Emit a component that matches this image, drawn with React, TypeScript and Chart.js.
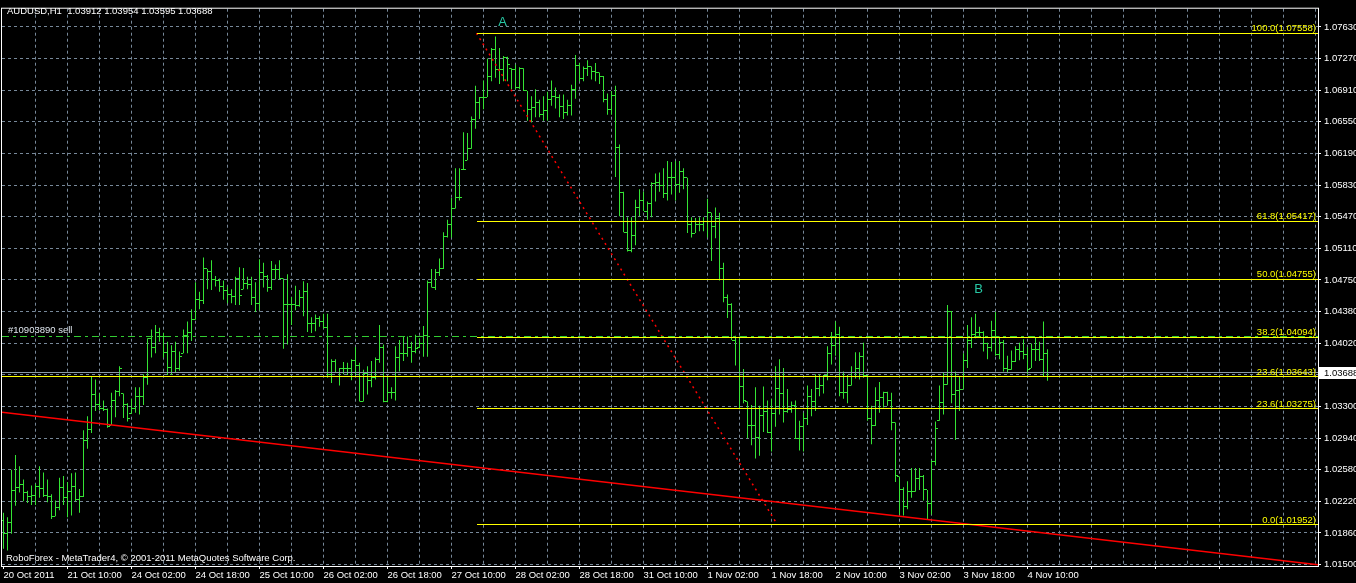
import { useEffect, useRef } from 'react';
import { Chart, registerables } from 'chart.js';

Chart.register(...registerables);

// ---- chart data (AUDUSD H1) ----
const symbolInfo = 'AUDUSD,H1  1.03912 1.03954 1.03595 1.03688';
const copyrightText = 'RoboForex - MetaTrader4, \u00a9 2001-2011 MetaQuotes Software Corp.';

const firstOpen = 1.02;

const highs = [
  1.0209, 1.0204, 1.0258, 1.0275, 1.0262, 1.0247, 1.0234, 1.024, 1.0242, 1.0262,
  1.0255, 1.0247, 1.023, 1.0223, 1.0249, 1.0251, 1.0244, 1.0254, 1.0255, 1.0236,
  1.0303, 1.0319, 1.0365, 1.0361, 1.0345, 1.0337, 1.0328, 1.0346, 1.0349, 1.0376,
  1.0345, 1.0334, 1.0339, 1.0352, 1.0352, 1.0367, 1.0408, 1.0418, 1.0423, 1.042,
  1.0414, 1.0404, 1.04, 1.0404, 1.0393, 1.0418, 1.0427, 1.0441, 1.0472, 1.0461,
  1.05, 1.0487, 1.0497, 1.0479, 1.0476, 1.0474, 1.0467, 1.0464, 1.0478, 1.0489,
  1.0488, 1.0478, 1.0478, 1.0472, 1.0498, 1.0494, 1.048, 1.0496, 1.0492, 1.0497,
  1.0476, 1.0481, 1.0455, 1.0468, 1.0463, 1.0473, 1.0471, 1.0432, 1.0435, 1.0433,
  1.0436, 1.0436, 1.0384, 1.0384, 1.0374, 1.0381, 1.038, 1.0384, 1.0398, 1.038,
  1.0372, 1.0376, 1.0382, 1.0386, 1.0423, 1.0401, 1.0365, 1.0352, 1.0399, 1.0406,
  1.041, 1.041, 1.0404, 1.0412, 1.0408, 1.0422, 1.0474, 1.0487, 1.0487, 1.0499,
  1.0529, 1.0543, 1.0568, 1.0602, 1.0602, 1.0643, 1.0642, 1.0661, 1.0696, 1.0683,
  1.0702, 1.0727, 1.0739, 1.0752, 1.0739, 1.073, 1.0729, 1.0716, 1.072, 1.0717,
  1.0716, 1.069, 1.0684, 1.0692, 1.068, 1.0684, 1.0689, 1.0702, 1.0694, 1.0686,
  1.0686, 1.068, 1.0697, 1.0731, 1.0722, 1.0718, 1.0725, 1.0718, 1.0722, 1.0711,
  1.0707, 1.0687, 1.069, 1.0696, 1.0629, 1.0575, 1.0546, 1.0546, 1.0566, 1.0578,
  1.0575, 1.0564, 1.0586, 1.0596, 1.0597, 1.0602, 1.061, 1.0609, 1.061, 1.061,
  1.0602, 1.0591, 1.0546, 1.0545, 1.0546, 1.0546, 1.0567, 1.0551, 1.0557, 1.0551,
  1.0494, 1.0458, 1.0448, 1.0411, 1.041, 1.0373, 1.0336, 1.0332, 1.0352, 1.0331,
  1.0353, 1.0337, 1.0339, 1.0376, 1.0384, 1.0374, 1.035, 1.0336, 1.0337, 1.0314,
  1.0323, 1.0354, 1.035, 1.0367, 1.0367, 1.0366, 1.0399, 1.0415, 1.0427, 1.0421,
  1.037, 1.0366, 1.0376, 1.0392, 1.0392, 1.0403, 1.0366, 1.0331, 1.0352, 1.0358,
  1.0347, 1.0347, 1.0346, 1.0312, 1.025, 1.0238, 1.0245, 1.026, 1.026, 1.026,
  1.0252, 1.0235, 1.0269, 1.0313, 1.0354, 1.0369, 1.0446, 1.0439, 1.037, 1.0365,
  1.0391, 1.0423, 1.0432, 1.0436, 1.0421, 1.0416, 1.0403, 1.0428, 1.0438, 1.041,
  1.0406, 1.0388, 1.0394, 1.0399, 1.0403, 1.0407, 1.0398, 1.0402, 1.0409, 1.0404,
  1.0427, 1.03954,
];

const lows = [
  1.0168, 1.0166, 1.0185, 1.0217, 1.0232, 1.0222, 1.022, 1.0218, 1.0218, 1.0226,
  1.0227, 1.0221, 1.0202, 1.0205, 1.0212, 1.0218, 1.0204, 1.0206, 1.0222, 1.0209,
  1.0227, 1.0282, 1.03, 1.0325, 1.0326, 1.0325, 1.0306, 1.0309, 1.0318, 1.0342,
  1.0317, 1.0313, 1.0322, 1.0323, 1.0321, 1.0332, 1.0355, 1.0386, 1.0391, 1.0404,
  1.0386, 1.0366, 1.0366, 1.0369, 1.0371, 1.0391, 1.0391, 1.0405, 1.0429, 1.0441,
  1.0447, 1.0464, 1.0463, 1.0467, 1.0461, 1.0452, 1.0448, 1.0448, 1.0446, 1.0446,
  1.0464, 1.0464, 1.0446, 1.0438, 1.044, 1.0466, 1.0461, 1.0463, 1.0475, 1.0475,
  1.0396, 1.0401, 1.0423, 1.044, 1.0444, 1.0433, 1.0415, 1.0414, 1.0416, 1.0421,
  1.0419, 1.0363, 1.0357, 1.0369, 1.0354, 1.0367, 1.0366, 1.036, 1.0366, 1.0336,
  1.0336, 1.0344, 1.0352, 1.0361, 1.038, 1.0335, 1.0335, 1.0339, 1.0337, 1.037,
  1.0382, 1.0387, 1.038, 1.0391, 1.0397, 1.0387, 1.0387, 1.0466, 1.0463, 1.0479,
  1.0487, 1.0523, 1.0523, 1.0556, 1.0565, 1.06, 1.0611, 1.0624, 1.0647, 1.0658,
  1.0669, 1.0683, 1.0701, 1.0705, 1.0698, 1.0701, 1.0701, 1.0692, 1.0692, 1.0692,
  1.069, 1.0656, 1.0654, 1.066, 1.066, 1.0656, 1.0656, 1.0673, 1.067, 1.066,
  1.0658, 1.0662, 1.0662, 1.0681, 1.0701, 1.0701, 1.0707, 1.0703, 1.0701, 1.0698,
  1.0677, 1.0663, 1.0663, 1.0592, 1.0547, 1.0529, 1.0507, 1.0506, 1.0514, 1.0547,
  1.0553, 1.0543, 1.0546, 1.0564, 1.0575, 1.0568, 1.0565, 1.0572, 1.0565, 1.0574,
  1.0578, 1.0528, 1.0523, 1.0528, 1.053, 1.053, 1.0523, 1.0496, 1.0522, 1.0474,
  1.0449, 1.0431, 1.0406, 1.0377, 1.0327, 1.0334, 1.0294, 1.0286, 1.0271, 1.0274,
  1.0301, 1.03, 1.0279, 1.0307, 1.0321, 1.0312, 1.0323, 1.0323, 1.0293, 1.028,
  1.0279, 1.0309, 1.0319, 1.0325, 1.0342, 1.0345, 1.036, 1.0378, 1.0388, 1.0342,
  1.0339, 1.0334, 1.0354, 1.0362, 1.0361, 1.0363, 1.0314, 1.0287, 1.0308, 1.0323,
  1.0329, 1.0331, 1.0303, 1.0244, 1.0207, 1.0206, 1.0213, 1.0226, 1.0233, 1.0235,
  1.0223, 1.0202, 1.0207, 1.0263, 1.0314, 1.0321, 1.0355, 1.0334, 1.0292, 1.0325,
  1.035, 1.0374, 1.0397, 1.0408, 1.041, 1.0393, 1.0384, 1.0393, 1.0388, 1.0384,
  1.037, 1.0368, 1.0372, 1.0381, 1.0383, 1.0384, 1.0367, 1.0374, 1.0382, 1.0382,
  1.0364, 1.03595,
];

const closes = [
  1.0185, 1.0198, 1.0234, 1.0238, 1.0241, 1.0232, 1.0228, 1.0229, 1.0239, 1.0237,
  1.0229, 1.0227, 1.0205, 1.0215, 1.0238, 1.0226, 1.0233, 1.0239, 1.0224, 1.0227,
  1.0291, 1.0304, 1.0344, 1.0332, 1.0328, 1.0327, 1.0307, 1.0337, 1.0347, 1.0374,
  1.0332, 1.0317, 1.0328, 1.0342, 1.0342, 1.0363, 1.0408, 1.0397, 1.0414, 1.041,
  1.0392, 1.0375, 1.0393, 1.0373, 1.0387, 1.0411, 1.0414, 1.0429, 1.0452, 1.0451,
  1.0487, 1.0484, 1.0475, 1.0474, 1.0467, 1.0463, 1.0458, 1.0456, 1.0476, 1.0457,
  1.0471, 1.0469, 1.0454, 1.0448, 1.0483, 1.0478, 1.0466, 1.0486, 1.0486, 1.0476,
  1.0446, 1.0446, 1.0446, 1.0445, 1.0455, 1.0461, 1.0425, 1.0425, 1.043, 1.0427,
  1.042, 1.0367, 1.0381, 1.0369, 1.0373, 1.0373, 1.0373, 1.0383, 1.0377, 1.0336,
  1.0368, 1.036, 1.0363, 1.0384, 1.0397, 1.0336, 1.0346, 1.0346, 1.0386, 1.0391,
  1.0391, 1.0397, 1.0393, 1.0396, 1.0402, 1.0411, 1.0472, 1.0466, 1.0483, 1.0488,
  1.0524, 1.0538, 1.0556, 1.0568, 1.0568, 1.06, 1.0624, 1.0658, 1.0677, 1.0682,
  1.0683, 1.0706, 1.0737, 1.0715, 1.0715, 1.0728, 1.072, 1.0714, 1.0694, 1.0716,
  1.069, 1.0669, 1.0671, 1.0677, 1.0663, 1.0668, 1.068, 1.0684, 1.0682, 1.0672,
  1.0665, 1.0673, 1.0692, 1.0719, 1.0704, 1.0716, 1.0718, 1.0712, 1.0711, 1.0707,
  1.068, 1.0669, 1.0685, 1.0625, 1.0574, 1.0529, 1.0508, 1.0525, 1.0557, 1.0565,
  1.0553, 1.0562, 1.0584, 1.0586, 1.0582, 1.0573, 1.0591, 1.0591, 1.0583, 1.0598,
  1.0591, 1.0538, 1.0528, 1.0538, 1.0538, 1.0541, 1.0551, 1.0536, 1.0545, 1.0488,
  1.0454, 1.0446, 1.0406, 1.0409, 1.0353, 1.0337, 1.0308, 1.0308, 1.0295, 1.032,
  1.0324, 1.0301, 1.0322, 1.0351, 1.0345, 1.0325, 1.0327, 1.0331, 1.0294, 1.0307,
  1.0316, 1.0342, 1.0336, 1.0351, 1.0354, 1.0365, 1.0391, 1.04, 1.0412, 1.0346,
  1.0346, 1.0354, 1.0369, 1.0374, 1.0387, 1.0365, 1.0316, 1.0308, 1.0337, 1.034,
  1.0346, 1.0337, 1.0312, 1.0252, 1.0235, 1.0216, 1.0233, 1.0233, 1.0248, 1.025,
  1.0235, 1.0219, 1.0268, 1.0305, 1.0335, 1.0355, 1.0438, 1.0344, 1.0348, 1.0349,
  1.0383, 1.0405, 1.0412, 1.0414, 1.0415, 1.0402, 1.0398, 1.0417, 1.0389, 1.0403,
  1.0374, 1.0372, 1.0382, 1.0395, 1.0393, 1.039, 1.0372, 1.0395, 1.0395, 1.0384,
  1.0391, 1.03688,
];

// one time label every 16 hourly bars
const timeLabels = [
  '20 Oct 2011', '21 Oct 10:00', '24 Oct 02:00', '24 Oct 18:00', '25 Oct 10:00',
  '26 Oct 02:00', '26 Oct 18:00', '27 Oct 10:00', '28 Oct 02:00', '28 Oct 18:00',
  '31 Oct 10:00', '1 Nov 02:00', '1 Nov 18:00', '2 Nov 10:00', '3 Nov 02:00',
  '3 Nov 18:00', '4 Nov 10:00',
];

const priceLabels = [
  '1.01500', '1.01860', '1.02220', '1.02580', '1.02940', '1.03300', '1.03660',
  '1.04020', '1.04380', '1.04750', '1.05110', '1.05470', '1.05830', '1.06190',
  '1.06550', '1.06910', '1.07270', '1.07630',
];

// Fibonacci retracement A -> low
const fibLevels = ['100.0', '61.8', '50.0', '38.2', '23.6', '0.0'];
const fibPrices = [1.07558, 1.05417, 1.04755, 1.04094, 1.03275, 1.01952];
const fibAnchorBars = [118.25, 193.5];
const fibAnchorPrices = [1.07558, 1.01952];

// second fibo object, only its 23.6 line is on screen
const fib2Level = '23.6';
const fib2Price = 1.03643;

const trendBars = [-0.375, 328.625];
const trendPrices = [1.03235, 1.01497];

const bidPrice = 1.03688;
const orderPrice = 1.04103;
const orderText = '#10903890 sell';

const markTexts = ['A', 'B'];
const markBars = [124.75, 243.75];
const markPrices = [1.0768, 1.0464];

// ---- look ----
const BAR_MIN = -0.375;
const BAR_MAX = 328.625;
const PRICE_MIN = 1.01483;
const PRICE_MAX = 1.07838;
const PRICE_TICK_LOW = 1.015;
const PRICE_TICK_HIGH = 1.0763;
const GRID_BARS = 8;
const LABEL_BARS = 16;

const FONT = '"Liberation Sans", Arial, sans-serif';
const TEXT_PX = 9.5;
const BAR_COLOR = '#34e334';
const GRID_COLOR = '#778899';
const FIB_COLOR = '#ffff00';
const CLEAR = 'rgba(0,0,0,0)';

// horizontal object lines: [from bar, price, colour, dash]
const levelLines = () => [
  ...fibPrices.map((p) => [fibAnchorBars[0], p, FIB_COLOR, []]),
  [BAR_MIN, fib2Price, FIB_COLOR, []],
  [BAR_MIN, bidPrice, '#8a9aaa', []],
  [BAR_MIN, orderPrice, '#32cd32', [7, 4, 3, 4]],
] as [number, number, string, number[]][];

const mt4Plugin = {
  id: 'mt4',
  beforeDraw(chart: any) {
    const { ctx, width, height } = chart;
    ctx.save();
    ctx.fillStyle = '#000';
    ctx.fillRect(0, 0, width, height);
    ctx.restore();
  },
  beforeDatasetsDraw(chart: any) {
    const { ctx, chartArea: a, scales } = chart;
    const xs = scales.x;
    const ys = scales.y;
    ctx.save();
    ctx.beginPath();
    ctx.rect(a.left, a.top, a.right - a.left, a.bottom - a.top);
    ctx.clip();
    ctx.fillStyle = BAR_COLOR;
    closes.forEach((c, i) => {
      const col = Math.round(xs.getPixelForValue(i) - 0.5);
      const prev = i === 0 ? firstOpen : closes[i - 1];
      const o = Math.min(highs[i], Math.max(lows[i], prev));
      ctx.fillRect(col - 2, Math.round(ys.getPixelForValue(o) - 0.5), 2, 1);
      ctx.fillRect(col + 1, Math.round(ys.getPixelForValue(c) - 0.5), 2, 1);
    });
    ctx.restore();
  },
  afterDatasetsDraw(chart: any) {
    const { ctx, chartArea: a, scales, width } = chart;
    const xs = scales.x;
    const ys = scales.y;

    ctx.save();
    // level lines, snapped to whole pixels
    ctx.lineWidth = 1;
    levelLines().forEach(([from, price, color, dash]) => {
      const y = Math.round(ys.getPixelForValue(price) - 0.5) + 0.5;
      ctx.strokeStyle = color;
      ctx.setLineDash(dash);
      ctx.beginPath();
      ctx.moveTo(Math.max(a.left, Math.round(xs.getPixelForValue(from))), y);
      ctx.lineTo(a.right, y);
      ctx.stroke();
    });
    ctx.setLineDash([]);

    ctx.font = `${TEXT_PX}px ${FONT}`;
    ctx.textBaseline = 'alphabetic';

    // fibo level captions
    ctx.fillStyle = FIB_COLOR;
    ctx.textAlign = 'right';
    fibLevels.forEach((lv, i) => {
      ctx.fillText(`${lv}(${fibPrices[i].toFixed(5)})`, a.right - 2, ys.getPixelForValue(fibPrices[i]) - 2);
    });
    ctx.fillText(`${fib2Level}(${fib2Price.toFixed(5)})`, a.right - 2, ys.getPixelForValue(fib2Price) - 2);

    // order caption
    ctx.textAlign = 'left';
    ctx.fillStyle = '#dfe6ee';
    ctx.fillText(orderText, a.left + 6, ys.getPixelForValue(orderPrice) - 3);

    // header and copyright
    ctx.fillStyle = '#ffffff';
    ctx.fillText(symbolInfo, 7, 14);
    ctx.fillText(copyrightText, 6, 561);

    // A / B marks
    ctx.font = `13px ${FONT}`;
    ctx.fillStyle = '#27c7a4';
    ctx.textAlign = 'center';
    ctx.textBaseline = 'middle';
    markTexts.forEach((t, i) => {
      ctx.fillText(t, xs.getPixelForValue(markBars[i]), ys.getPixelForValue(markPrices[i]));
    });

    // frame
    ctx.strokeStyle = '#ffffff';
    ctx.lineWidth = 1;
    ctx.strokeRect(a.left - 0.5, a.top - 0.5, a.right - a.left + 1, a.bottom - a.top + 1);

    // bid price box on the price scale
    const by = Math.round(ys.getPixelForValue(bidPrice));
    ctx.fillStyle = '#ffffff';
    ctx.fillRect(a.right + 1, by - 6, width - a.right - 1, 12);
    ctx.fillStyle = '#000000';
    ctx.font = `${TEXT_PX}px ${FONT}`;
    ctx.textAlign = 'left';
    ctx.fillText(bidPrice.toFixed(5), a.right + 6, by);
    ctx.restore();
  },
};

export default function App() {
  const canvasRef = useRef<HTMLCanvasElement>(null);
  const chartRef = useRef<Chart | null>(null);

  useEffect(() => {
    document.body.style.margin = '0';
    document.body.style.background = '#000';
    if (!canvasRef.current) return;
    if (chartRef.current) chartRef.current.destroy();

    const lineBase = { type: 'line' as const, pointRadius: 0, borderWidth: 1, fill: false, tension: 0 };

    chartRef.current = new Chart(canvasRef.current, {
      type: 'bar',
      data: {
        datasets: [
          {
            ...lineBase,
            label: 'fibo diagonal',
            data: fibAnchorBars.map((b, i) => ({ x: b, y: fibAnchorPrices[i] })),
            borderColor: '#ff0000',
            borderWidth: 1.5,
            borderDash: [2, 4],
          },
          {
            ...lineBase,
            label: 'trend',
            data: trendBars.map((b, i) => ({ x: b, y: trendPrices[i] })),
            borderColor: '#ff0000',
            borderWidth: 1.5,
          },
          {
            type: 'bar' as const,
            label: 'AUDUSD',
            data: highs.map((h, i) => ({ x: i, y: [lows[i], h] })) as any,
            backgroundColor: BAR_COLOR,
            borderWidth: 0,
            barThickness: 1,
            inflateAmount: 0,
          },
        ] as any,
      },
      options: {
        animation: false,
        responsive: true,
        maintainAspectRatio: false,
        devicePixelRatio: 1,
        events: [],
        layout: { padding: { left: 2, top: 2, right: 0, bottom: 0 } },
        plugins: {
          legend: { display: false },
          tooltip: { enabled: false },
        },
        scales: {
          x: {
            type: 'linear',
            position: 'bottom',
            min: BAR_MIN,
            max: BAR_MAX,
            offset: false,
            afterBuildTicks: (s: any) => {
              const t = [];
              for (let v = 0; v <= BAR_MAX; v += GRID_BARS) t.push({ value: v });
              s.ticks = t;
            },
            afterFit: (s: any) => {
              s.height = 17;
            },
            grid: {
              offset: false,
              color: (c: any) => (c.tick && c.tick.value === 0 ? CLEAR : GRID_COLOR),
              tickColor: (c: any) => (c.tick && c.tick.value % LABEL_BARS === 0 ? '#ffffff' : CLEAR),
              tickLength: 3,
            },
            border: { display: false, dash: [3, 3] },
            ticks: {
              color: '#ffffff',
              font: { family: FONT, size: TEXT_PX },
              padding: 1,
              autoSkip: false,
              maxRotation: 0,
              minRotation: 0,
              align: 'start',
              callback: (v: any) => (v % LABEL_BARS === 0 ? timeLabels[v / LABEL_BARS] ?? '' : ''),
            },
          },
          y: {
            type: 'linear',
            position: 'right',
            min: PRICE_MIN,
            max: PRICE_MAX,
            afterBuildTicks: (s: any) => {
              const step = (PRICE_TICK_HIGH - PRICE_TICK_LOW) / (priceLabels.length - 1);
              s.ticks = priceLabels.map((_, i) => ({ value: PRICE_TICK_LOW + i * step }));
            },
            afterFit: (s: any) => {
              s.width = 38;
            },
            grid: { color: GRID_COLOR, tickColor: '#ffffff', tickLength: 3 },
            border: { display: false, dash: [3, 3] },
            ticks: {
              color: '#ffffff',
              font: { family: FONT, size: TEXT_PX },
              padding: 3,
              autoSkip: false,
              callback: (_v: any, i: number) => priceLabels[i] ?? '',
            },
          },
        },
      } as any,
      plugins: [mt4Plugin],
    });

    return () => {
      if (chartRef.current) {
        chartRef.current.destroy();
        chartRef.current = null;
      }
    };
  }, []);

  return (
    <div style={{ position: 'relative', width: 1356, height: 583, background: '#000' }}>
      <canvas ref={canvasRef} />
    </div>
  );
}
